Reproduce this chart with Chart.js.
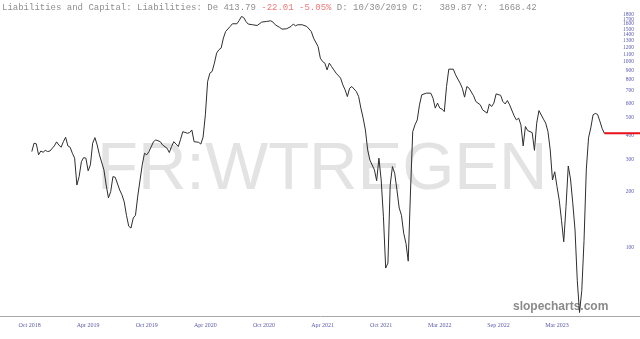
<!DOCTYPE html>
<html><head><meta charset="utf-8">
<script src="https://cdn.jsdelivr.net/npm/chart.js@4.4.1/dist/chart.umd.min.js"></script>
<style>html,body{margin:0;padding:0;background:#fff;overflow:hidden}canvas{display:block}</style>
</head><body>
<canvas id="c" width="640" height="339" style="width:640px;height:339px"></canvas>
<script>
// Week index (0 = label "Oct 2018") and value
const weeks = [1,2,3,4,5,6,7,8,9,11,12,13,14,15,16,17,18,19,20,21,22,23,24,25,26,27,28,29,30,31,33,34,35,36,37,38,40,41,42,43,44,45,46,47,48,50,51,52,53,55,56,58,59,61,62,63,64,65,66,67,68,70,71,72,73,75,76,77,78,79,80,81,82,83,84,85,86,87,89,90,92,93,94,95,96,97,99,101,103,105,107,108,109,111,112,114,116,117,118,119,121,123,125,126,128,129,130,131,132,133,134,135,136,138,139,140,141,142,143,145,146,147,148,149,150,151,153,154,155,156,157,158,159,160,161,162,163,164,165,166,167,168,169,170,171,172,173,174,176,178,179,180,181,182,183,184,185,186,188,189,191,192,193,194,195,197,198,200,201,203,204,205,206,207,209,210,211,212,213,215,216,217,218,219,220,221,223,224,225,226,228,229,230,231,232,233,234,235,236,237,238,239,240,241,242,243,244,245,246,247,248,249,250,251,252,253,254,255];
const values = [330,366,363,317,332,327,335,330,332,354,372,358,348,373,394,354,348,323,304,218,242,291,306,304,260,280,366,392,358,317,263,218,186,201,242,240,205,193,177,150,131,128,145,150,190,280,323,317,330,373,381,373,358,344,326,351,373,362,351,384,422,414,417,431,373,370,362,395,520,785,871,889,986,1116,1163,1188,1344,1459,1552,1605,1605,1671,1756,1735,1651,1599,1585,1571,1638,1651,1665,1638,1585,1533,1502,1508,1552,1599,1565,1585,1585,1552,1459,1344,1211,1049,1006,986,907,986,945,907,871,819,753,708,652,723,738,693,652,565,499,431,337,297,263,230,304,232,147,78,83,218,274,252,205,164,150,120,106,85,200,422,459,488,588,666,680,680,639,565,601,565,558,541,738,915,915,853,770,723,647,738,723,658,613,588,553,531,595,576,601,674,662,613,595,620,588,513,488,499,459,354,450,428,417,335,469,548,493,469,422,337,232,257,214,181,141,108,167,276,235,175,125,67,45,59,110,263,391,442,520,529,523,482,440,414];
const lastValue = 413.79;
const xTickWeeks = [0,26,52,78,104,130,156,182,208,234];
const xTickLabels = ['Oct 2018','Apr 2019','Oct 2019','Apr 2020','Oct 2020','Apr 2021','Oct 2021','Mar 2022','Sep 2022','Mar 2023'];
const yTicks = [100,200,300,400,500,600,700,800,900,1000,1100,1200,1300,1400,1500,1600,1700,1800];
const titleParts = [
  ['Liabilities and Capital: Liabilities: De 413.79 ', '#8f8f8f'],
  ['-22.01 -5.05%', '#f07878'],
  [' D: 10/30/2019 C:   389.87 Y:  1668.42', '#8f8f8f']
];
const watermark = 'FR:WTREGEN';
const brand = 'slopecharts.com';

const X_MIN = -13.11, X_MAX = 270.83;
const Y_MIN = 43.1, Y_MAX = 2154;

const series = weeks.map((w, i) => ({x: w, y: values[i]}));
const lastLine = [{x: weeks[weeks.length - 1], y: lastValue}, {x: X_MAX, y: lastValue}];

const decor = {
  id: 'decor',
  beforeDatasetsDraw(chart) {
    const ctx = chart.ctx;
    ctx.save();
    ctx.font = '67px "Liberation Sans", Arial, sans-serif';
    ctx.fillStyle = '#e3e3e3';
    ctx.textBaseline = 'alphabetic';
    ctx.textAlign = 'left';
    ctx.fillText(watermark, 97, 189);
    ctx.font = 'bold 12px "Liberation Sans", Arial, sans-serif';
    ctx.fillStyle = '#8a8a8a';
    ctx.fillText(brand, 513, 310);
    // y-axis labels (log scale), drawn inside the plot at the right edge
    const ys = chart.scales.y;
    ctx.font = '5.5px "Liberation Serif", "DejaVu Serif", serif';
    ctx.fillStyle = '#5a5aae';
    ctx.textAlign = 'right';
    ctx.textBaseline = 'middle';
    for (const v of yTicks) ctx.fillText(String(v), 634, ys.getPixelForValue(v));
    ctx.restore();
  },
  afterDraw(chart) {
    const ctx = chart.ctx;
    ctx.save();
    ctx.font = '9px "Liberation Mono", "DejaVu Sans Mono", monospace';
    ctx.textBaseline = 'middle';
    ctx.textAlign = 'left';
    let x = 2;
    for (const [t, c] of titleParts) {
      ctx.fillStyle = c;
      ctx.fillText(t, x, 7.5);
      x += ctx.measureText(t).width;
    }
    ctx.restore();
  }
};

new Chart(document.getElementById('c'), {
  type: 'line',
  data: {
    datasets: [
      {data: series, borderColor: '#2e2e2e', borderWidth: 1, pointRadius: 0, tension: 0, fill: false},
      {data: lastLine, borderColor: '#e8101a', borderWidth: 2, pointRadius: 0, tension: 0, fill: false}
    ]
  },
  options: {
    responsive: false,
    animation: false,
    devicePixelRatio: 1,
    layout: {padding: 0},
    plugins: {legend: {display: false}, tooltip: {enabled: false}, title: {display: false}},
    scales: {
      x: {
        type: 'linear', position: 'bottom', min: X_MIN, max: X_MAX, bounds: 'data',
        grid: {display: false, drawTicks: false},
        border: {display: true, color: '#a8a8a8', width: 1},
        afterBuildTicks: (axis) => { axis.ticks = xTickWeeks.map(v => ({value: v})); },
        afterFit: (axis) => { axis.height = 23; },
        ticks: {
          autoSkip: false, maxRotation: 0, padding: 6,
          color: '#5a5aa8',
          font: {family: '"Liberation Serif", "DejaVu Serif", serif', size: 6},
          callback: (v) => { const i = xTickWeeks.indexOf(v); return i >= 0 ? xTickLabels[i] : ''; }
        }
      },
      y: {
        type: 'logarithmic', display: false, min: Y_MIN, max: Y_MAX, bounds: 'data',
        afterBuildTicks: (axis) => { axis.ticks = yTicks.map(v => ({value: v})); }
      }
    }
  },
  plugins: [decor]
});
</script>
</body></html>
